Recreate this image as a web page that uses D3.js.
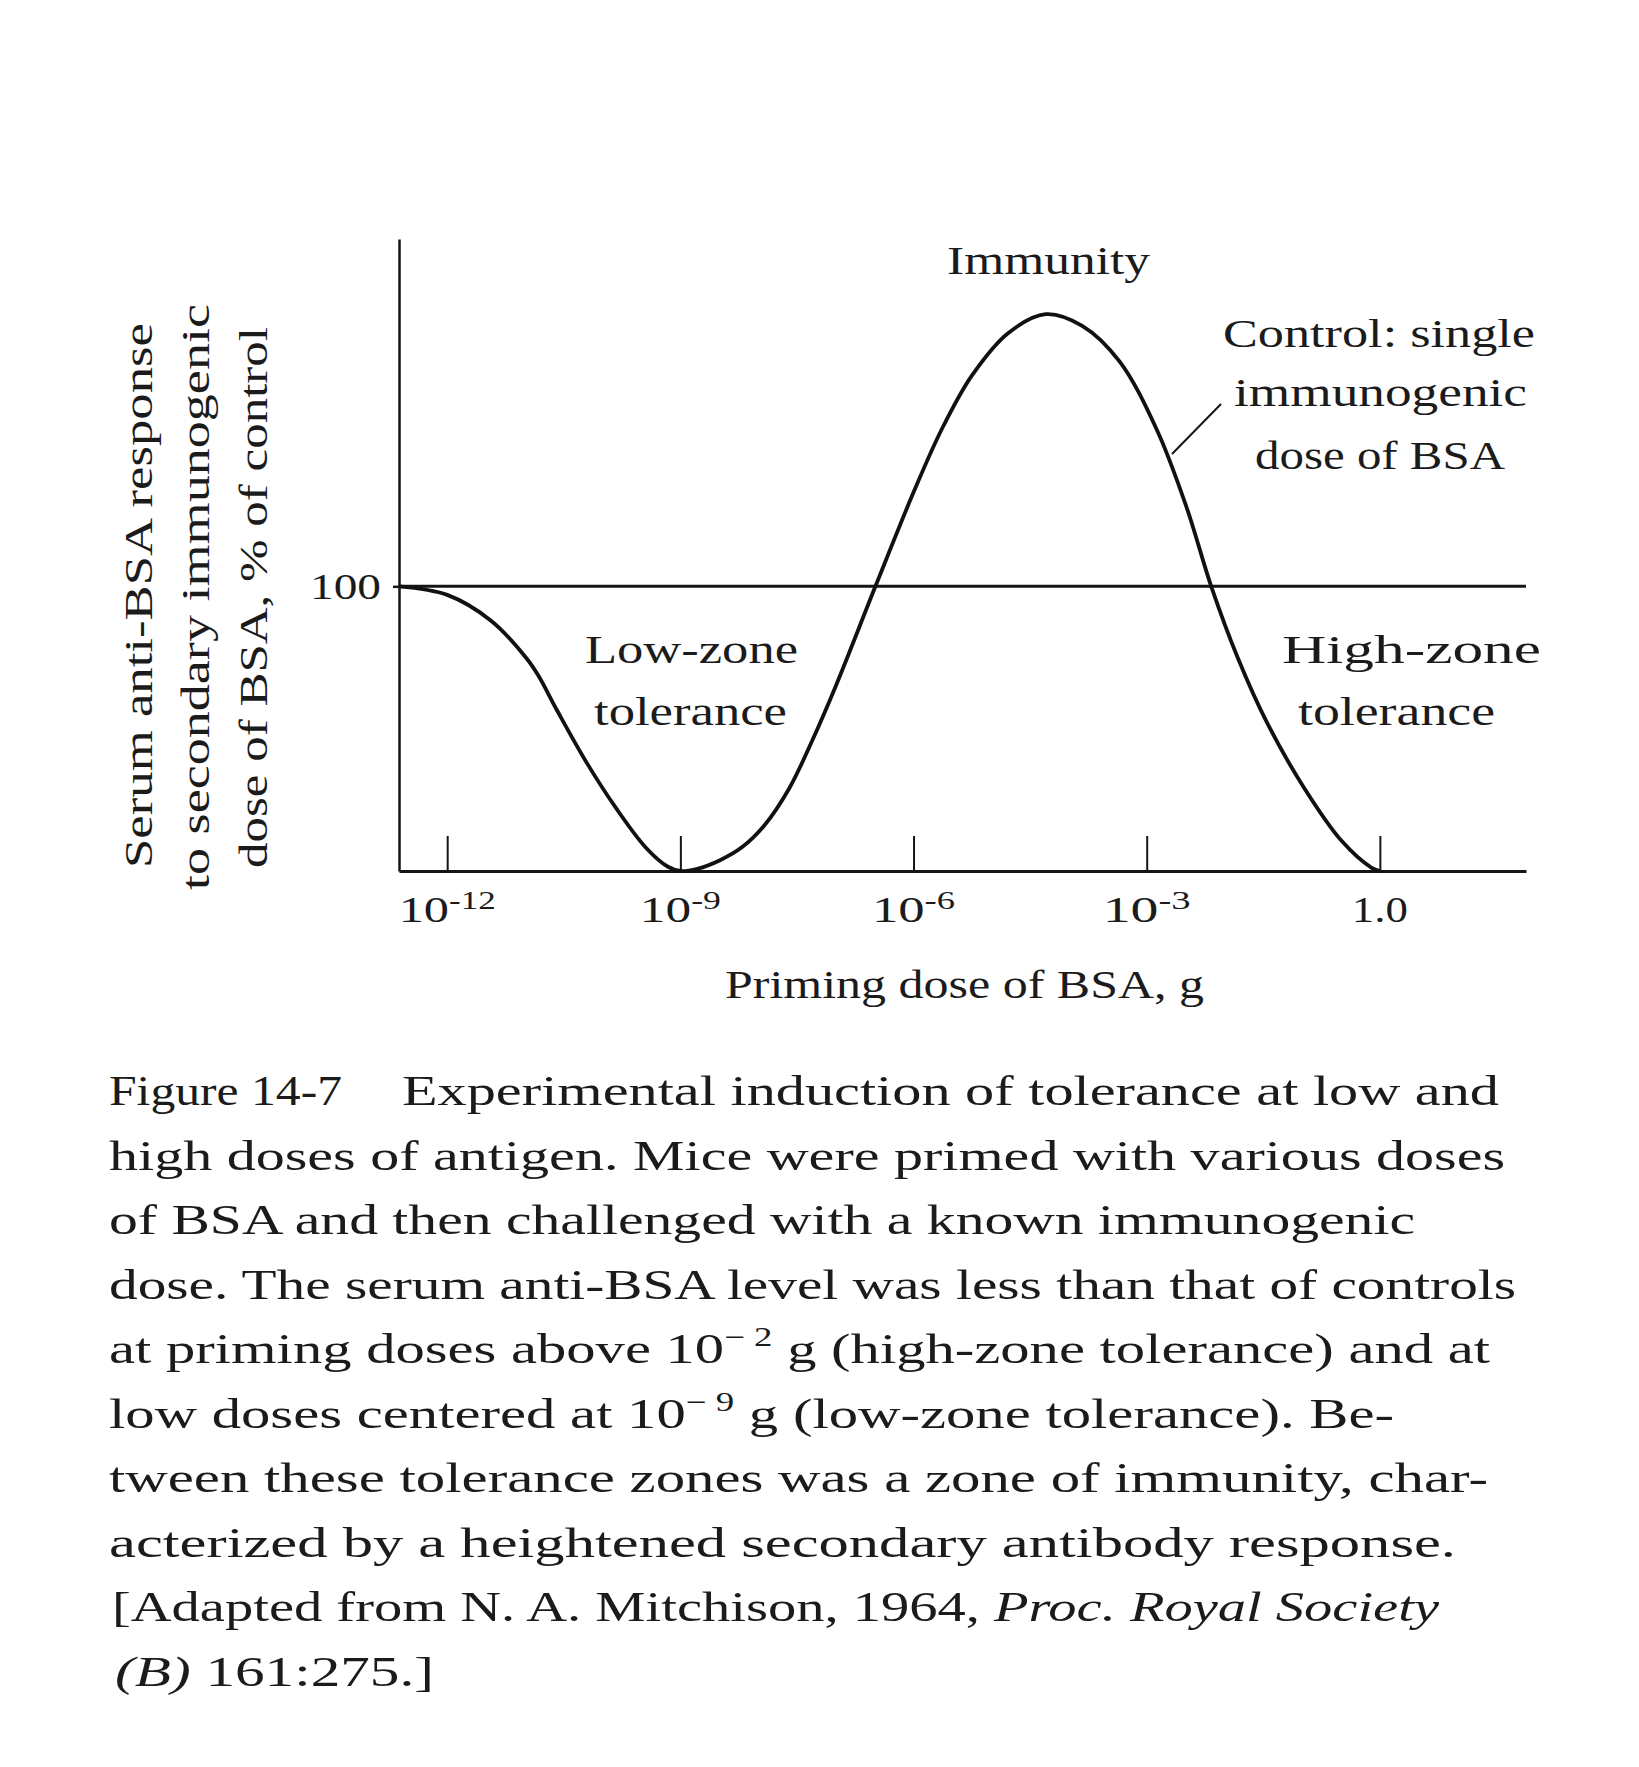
<!DOCTYPE html>
<html>
<head>
<meta charset="utf-8">
<script src="https://cdn.jsdelivr.net/npm/d3@7/dist/d3.min.js"></script>
<style>
  html, body { margin: 0; padding: 0; background: #ffffff; }
  svg { display: block; }
  text { fill: #1b1b1b; font-family: "Liberation Serif", "DejaVu Serif", serif; }
</style>
</head>
<body>
<svg id="chart" width="1639" height="1767"></svg>
<script>
// ---------------- data ----------------
// priming dose of BSA, as log10(g)
const doseExp = [-12.62, -12.0, -11.44, -10.97, -10.82, -10.58, -10.2, -9.82, -9.44, -9.16, -9.0,
                 -8.78, -8.49, -8.2, -7.92, -7.6, -7.3, -7.0, -6.49, -6.0, -5.64, -5.25, -4.78, -4.3,
                 -3.83, -3.35, -2.87, -2.49, -2.17, -1.83, -1.45, -0.97, -0.49, -0.11, 0.0];
// serum anti-BSA response, % of control
const response = [100, 97, 88, 74.4, 68.3, 56.1, 37.8, 21.8, 8.1, 1.5, 0,
                  0.8, 3.8, 8.5, 16, 29, 46, 65, 100, 133, 155, 174, 189, 195.6,
                  191.5, 179, 155, 128, 100, 75, 52, 29, 10.5, 1.2, 0];
const controlLevel = 100;
const xDomain = [-12.62, 1.88];
const yDomain = [0, 222];
const xTickValues = [-12, -9, -6, -3, 0];
const xTickBase = ["10", "10", "10", "10", "1.0"];
const xTickSup = ["-12", "-9", "-6", "-3", ""];
const yTickValues = [100];
const yTickLabels = ["100"];
const yTitleLines = ["Serum anti-BSA response", "to secondary immunogenic", "dose of BSA, % of control"];
const xTitle = "Priming dose of BSA, g";
const zoneLabels = [
  {lines: ["Immunity"]},
  {lines: ["Low-zone", "tolerance"]},
  {lines: ["High-zone", "tolerance"]},
  {lines: ["Control: single", "immunogenic", "dose of BSA"]}
];

// ---------------- layout ----------------
const svg = d3.select("#chart");
const x = d3.scaleLinear().domain(xDomain).range([399, 1526]);
const y = d3.scaleLinear().domain(yDomain).range([871, 239]);

// X axis (ticks pointing up, inside)
const xAxis = svg.append("g")
  .attr("transform", `translate(0,${y(0)})`)
  .call(d3.axisBottom(x).tickValues(xTickValues).tickSize(-35).tickSizeOuter(0).tickFormat(""));
xAxis.select(".domain").attr("stroke", "#151515").attr("stroke-width", 3);
xAxis.selectAll(".tick line").attr("stroke", "#151515").attr("stroke-width", 2);

// Y axis
const yAxis = svg.append("g")
  .attr("transform", `translate(${x(xDomain[0])},0)`)
  .call(d3.axisLeft(y).tickValues(yTickValues).tickSize(6).tickSizeOuter(0).tickPadding(12)
        .tickFormat((d, i) => yTickLabels[i]));
yAxis.select(".domain").attr("stroke", "#151515").attr("stroke-width", 2.5);
yAxis.selectAll(".tick line").attr("stroke", "#151515").attr("stroke-width", 2.5);
yAxis.selectAll(".tick text")
  .attr("font-family", "'Liberation Serif', serif")
  .attr("font-size", 35).attr("fill", "#1b1b1b")
  .attr("dy", "0.36em")
  .attr("textLength", 71).attr("lengthAdjust", "spacingAndGlyphs");

// tick labels on x (widths)
const xTickWidths = [97, 81, 83, 88, 56];
const tl = svg.append("g");
xTickValues.forEach((v, i) => {
  const t = tl.append("text")
    .attr("x", x(v) - xTickWidths[i] / 2).attr("y", 922)
    .attr("font-size", 36)
    .attr("textLength", xTickWidths[i]).attr("lengthAdjust", "spacingAndGlyphs");
  t.append("tspan").text(xTickBase[i]);
  if (xTickSup[i]) {
    t.append("tspan").attr("font-size", 25).attr("dy", -13).text(xTickSup[i]);
  }
});

// Control line (100 %)
svg.append("line")
  .attr("x1", x(xDomain[0])).attr("x2", x(xDomain[1]))
  .attr("y1", y(controlLevel)).attr("y2", y(controlLevel))
  .attr("stroke", "#151515").attr("stroke-width", 3);

// Response curve
const pts = doseExp.map((e, i) => ({e, v: response[i]}));
svg.append("path")
  .datum(pts)
  .attr("fill", "none")
  .attr("stroke", "#111")
  .attr("stroke-width", 3.8)
  .attr("stroke-linejoin", "round")
  .attr("d", d3.line().x(d => x(d.e)).y(d => Math.min(y(d.v), y(0))).curve(d3.curveCatmullRom.alpha(0.5)));

// helper for stretched text
function label(txt, xl, xr, base, size, opts = {}) {
  const t = svg.append("text")
    .attr("x", xl).attr("y", base)
    .attr("font-size", size)
    .attr("textLength", xr - xl)
    .attr("lengthAdjust", "spacingAndGlyphs")
    .text(txt);
  if (opts.family) t.attr("font-family", opts.family);
  if (opts.weight) t.attr("font-weight", opts.weight);
  return t;
}

// zone labels
label(zoneLabels[0].lines[0], 947, 1150, 274, 39);
label(zoneLabels[1].lines[0], 585, 798, 663, 39);
label(zoneLabels[1].lines[1], 594, 787, 725, 39);
label(zoneLabels[2].lines[0], 1282, 1541, 663, 39);
label(zoneLabels[2].lines[1], 1298, 1495, 725, 39);
label(zoneLabels[3].lines[0], 1223, 1535, 347, 39);
label(zoneLabels[3].lines[1], 1234, 1527, 406, 39);
label(zoneLabels[3].lines[2], 1255, 1505, 469, 39);
// leader line from label to curve
svg.append("line")
  .attr("x1", 1172).attr("y1", 454).attr("x2", 1221).attr("y2", 404)
  .attr("stroke", "#151515").attr("stroke-width", 2);

// axis titles
label(xTitle, 725, 1204, 998, 39);
const yT = [{base: 152, top: 323, bot: 868}, {base: 209, top: 304, bot: 890}, {base: 267, top: 327, bot: 868}];
yTitleLines.forEach((ln, i) => {
  const len = yT[i].bot - yT[i].top;
  svg.append("text")
    .attr("transform", `translate(${yT[i].base},${yT[i].bot}) rotate(-90)`)
    .attr("x", 0).attr("y", 0)
    .attr("font-size", 39)
    .attr("textLength", len).attr("lengthAdjust", "spacingAndGlyphs")
    .text(ln);
});

// ---------------- caption ----------------
const capBase = 1105, capStep = 64.5, capSize = 43;
label("Figure 14-7", 109, 342, capBase, capSize, {family: "'Liberation Sans', sans-serif"});
label("Experimental induction of tolerance at low and", 402, 1499, capBase, capSize);
label("high doses of antigen. Mice were primed with various doses", 109, 1505, capBase + capStep, capSize);
label("of BSA and then challenged with a known immunogenic", 109, 1415, capBase + 2 * capStep, capSize);
label("dose. The serum anti-BSA level was less than that of controls", 109, 1516, capBase + 3 * capStep, capSize);

function supLine(parts, xl, xr, base) {
  const t = svg.append("text").attr("x", xl).attr("y", base).attr("font-size", capSize)
    .attr("textLength", xr - xl).attr("lengthAdjust", "spacingAndGlyphs");
  parts.forEach(p => {
    const s = t.append("tspan").text(p.t);
    if (p.sup) s.attr("font-size", 27).attr("dy", -17);
    if (p.after) s.attr("dy", 17);
    if (p.italic) s.attr("font-style", "italic");
  });
}
supLine([{t: "at priming doses above 10"}, {t: "\u2212 2", sup: true}, {t: " g (high-zone tolerance) and at", after: true}],
        109, 1490, capBase + 4 * capStep);
supLine([{t: "low doses centered at 10"}, {t: "\u2212 9", sup: true}, {t: " g (low-zone tolerance). Be-", after: true}],
        109, 1394, capBase + 5 * capStep);
label("tween these tolerance zones was a zone of immunity, char-", 109, 1488, capBase + 6 * capStep, capSize);
label("acterized by a heightened secondary antibody response.", 109, 1456, capBase + 7 * capStep, capSize);
supLine([{t: "[Adapted from N. A. Mitchison, 1964, "}, {t: "Proc. Royal Society", italic: true}],
        112, 1439, capBase + 8 * capStep);
supLine([{t: "(B)", italic: true}, {t: " 161:275.]"}], 115, 434, capBase + 9 * capStep);
</script>
</body>
</html>
